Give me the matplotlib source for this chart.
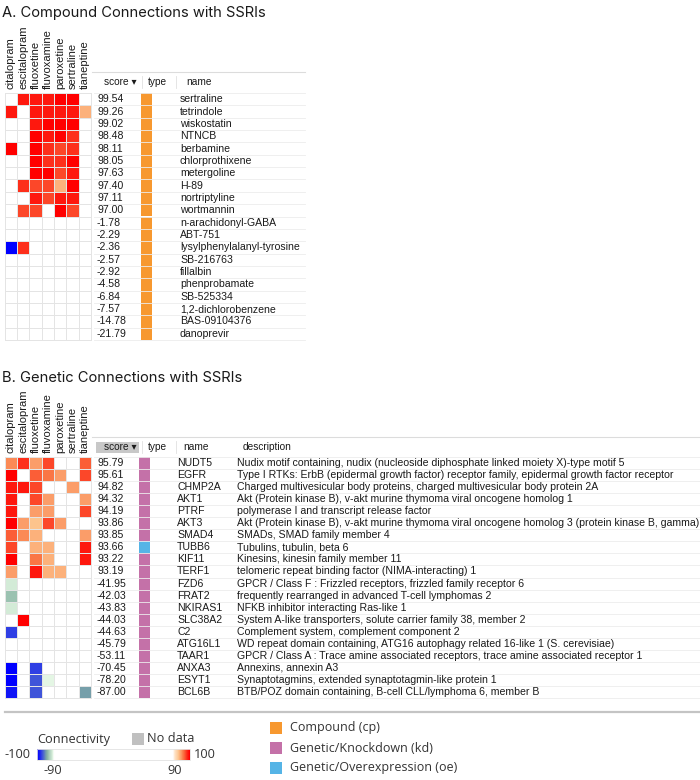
import numpy as np
import matplotlib
matplotlib.use("Agg")
import matplotlib.pyplot as plt
from matplotlib.colors import LinearSegmentedColormap, Normalize

# ---- data ----
drugs = ["citalopram", "escitalopram", "fluoxetine", "fluvoxamine",
         "paroxetine", "sertraline", "tianeptine"]

compounds = ["sertraline", "tetrindole", "wiskostatin", "NTNCB", "berbamine",
             "chlorprothixene", "metergoline", "H-89", "nortriptyline",
             "wortmannin", "n-arachidonyl-GABA", "ABT-751",
             "lysylphenylalanyl-tyrosine", "SB-216763", "fillalbin",
             "phenprobamate", "SB-525334", "1,2-dichlorobenzene",
             "BAS-09104376", "danoprevir"]
compound_scores = [99.54, 99.26, 99.02, 98.48, 98.11, 98.05, 97.63, 97.40,
                   97.11, 97.00, -1.78, -2.29, -2.36, -2.57, -2.92, -4.58,
                   -6.84, -7.57, -14.78, -21.79]
compound_conn = [
    [0, 99, 99, 98.5, 99.5, 99.5, 0],
    [99.2, 0, 99, 99, 99, 98.5, 93],
    [0, 0, 98.5, 99.5, 99.5, 99.7, 0],
    [0, 0, 99.5, 99, 99.7, 98, 0],
    [99.5, 0, 99.5, 98, 97.5, 98, 0],
    [0, 0, 99.5, 98, 98, 99.5, 0],
    [0, 0, 99.5, 99.5, 97.5, 98.5, 0],
    [0, 98, 97, 97.5, 93, 99.5, 0],
    [0, 0, 98.5, 97.5, 99, 98.5, 0],
    [0, 97.5, 97, 0, 99.7, 97, 0],
    [0, 0, 0, 0, 0, 0, 0],
    [0, 0, 0, 0, 0, 0, 0],
    [-99.5, 98, 0, 0, 0, 0, 0],
    [0, 0, 0, 0, 0, 0, 0],
    [0, 0, 0, 0, 0, 0, 0],
    [0, 0, 0, 0, 0, 0, 0],
    [0, 0, 0, 0, 0, 0, 0],
    [0, 0, 0, 0, 0, 0, 0],
    [0, 0, 0, 0, 0, 0, 0],
    [0, 0, 0, 0, 0, 0, 0],
]

genes = ["NUDT5", "EGFR", "CHMP2A", "AKT1", "PTRF", "AKT3", "SMAD4", "TUBB6",
         "KIF11", "TERF1", "FZD6", "FRAT2", "NKIRAS1", "SLC38A2", "C2",
         "ATG16L1", "TAAR1", "ANXA3", "ESYT1", "BCL6B"]
gene_scores = [95.79, 95.61, 94.82, 94.32, 94.19, 93.86, 93.85, 93.66, 93.22,
               93.19, -41.95, -42.03, -43.83, -44.03, -44.63, -45.79, -53.11,
               -70.45, -78.20, -87.00]
gene_types = ["kd"] * 7 + ["oe"] + ["kd"] * 12
gene_desc = [
    "Nudix motif containing, nudix (nucleoside diphosphate linked moiety X)-type motif 5",
    "Type I RTKs: ErbB (epidermal growth factor) receptor family, epidermal growth factor receptor",
    "Charged multivesicular body proteins, charged multivesicular body protein 2A",
    "Akt (Protein kinase B), v-akt murine thymoma viral oncogene homolog 1",
    "polymerase I and transcript release factor",
    "Akt (Protein kinase B), v-akt murine thymoma viral oncogene homolog 3 (protein kinase B, gamma)",
    "SMADs, SMAD family member 4",
    "Tubulins, tubulin, beta 6",
    "Kinesins, kinesin family member 11",
    "telomeric repeat binding factor (NIMA-interacting) 1",
    "GPCR / Class F : Frizzled receptors, frizzled family receptor 6",
    "frequently rearranged in advanced T-cell lymphomas 2",
    "NFKB inhibitor interacting Ras-like 1",
    "System A-like transporters, solute carrier family 38, member 2",
    "Complement system, complement component 2",
    "WD repeat domain containing, ATG16 autophagy related 16-like 1 (S. cerevisiae)",
    "GPCR / Class A : Trace amine associated receptors, trace amine associated receptor 1",
    "Annexins, annexin A3",
    "Synaptotagmins, extended synaptotagmin-like protein 1",
    "BTB/POZ domain containing, B-cell CLL/lymphoma 6, member B",
]
gene_conn = [
    [95, 98, 94, 97.5, 0, 0, 96.5],
    [99.5, 0, 96.5, 95.5, 94, 0, 97],
    [99, 99, 97.5, 0, 0, 94.5, 0],
    [99, 0, 97.5, 94, 0, 0, 94.5],
    [99, 0, 94, 94, 0, 0, 97.5],
    [99.7, 94, 92.5, 97.5, 94, 0, 0],
    [96.5, 95, 93.5, 0, 0, 0, 94],
    [97.5, 0, 93.5, 93.5, 0, 0, 98.5],
    [99.7, 0, 95.5, 93, 0, 0, 99],
    [94, 0, 98.5, 93.5, 93, 0, 0],
    [-90.6, 0, 0, 0, 0, 0, 0],
    [-92.5, 0, 0, 0, 0, 0, 0],
    [-90.6, 0, 0, 0, 0, 0, 0],
    [0, 99.5, 0, 0, 0, 0, 0],
    [-97.3, 0, 0, 0, 0, 0, 0],
    [0, 0, 0, 0, 0, 0, 0],
    [0, 0, 0, 0, 0, 0, 0],
    [-99.7, 0, -97.3, 0, 0, 0, 0],
    [-99.5, 0, -96.6, -89.6, 0, 0, 0],
    [-99.0, 0, -96.6, 0, 0, 0, -94],
]

type_colors = {"cp": "#f7982f", "kd": "#c471a8", "oe": "#55b4e6"}
type_labels = [("cp", "Compound (cp)"), ("kd", "Genetic/Knockdown (kd)"),
               ("oe", "Genetic/Overexpression (oe)")]

# connectivity colour scale: blue -100, green -90, white, orange 90, red 100
stops = [(-100, "#0000ff"), (-97, "#3c50dc"), (-94, "#82afa0"),
         (-90, "#e1f5e1"), (-88, "#ffffff"), (88, "#ffffff"),
         (90, "#ffebd7"), (93, "#fdc38c"), (96, "#fa7846"), (100, "#ff0000")]
cmap = LinearSegmentedColormap.from_list(
    "conn", [((v + 100) / 200, c) for v, c in stops])
norm = Normalize(-100, 100)

TXT = "#1a1a1a"
GRID = "#e4e4e4"
TFONT = ["Liberation Sans", "DejaVu Sans"]
LFONT = ["Open Sans", "DejaVu Sans"]
LCOL = "#333333"

fig = plt.figure(figsize=(7, 7.8), dpi=100)
ax = fig.add_axes([0, 0, 1, 1])
ax.set_xlim(0, 700)
ax.set_ylim(780, 0)
ax.axis("off")

HX0, CW = 4.5, 12.35


def panel(title, ty, y_lab, y0, rh, conn, scores, names, types, desc,
          line_x1, head_y, sorted_box):
    ax.text(2, ty, title, fontsize=10.6, family=["Inter", "DejaVu Sans"],
            va="center", ha="left", color=TXT)
    n = len(names)
    xe = HX0 + np.arange(len(drugs) + 1) * CW
    ye = y0 + np.arange(n + 1) * rh
    ax.pcolormesh(xe, ye, np.array(conn), cmap=cmap, norm=norm,
                  edgecolors=GRID, linewidth=0.6)
    for i, d in enumerate(drugs):
        ax.text(xe[i] + CW / 2, y_lab, d, rotation=90, ha="center",
                va="bottom", fontsize=8, family=TFONT, color=TXT)
    # table rows
    for k in range(n + 1):
        ax.plot([94, line_x1], [ye[k], ye[k]], color="#ececec", lw=0.6)
    ax.plot([92, line_x1], [head_y - 10, head_y - 10], color="#dcdcdc", lw=0.8)
    if sorted_box:
        ax.add_patch(plt.Rectangle((96, head_y - 5.5), 43, 11,
                                   color="#c8c8c8", lw=0))
    for xs in (141.5, 175.5):
        ax.plot([xs, xs], [head_y - 6, head_y + 6], color="#e0e0e0", lw=0.6)
    ax.text(104, head_y, "score \u25be", fontsize=7.3, family=TFONT,
            va="center", color=TXT)
    ax.text(148, head_y, "type", fontsize=7.3, family=TFONT, va="center",
            color=TXT)
    ax.text(183 if desc is not None else 186, head_y, "name", fontsize=7.3,
            family=TFONT, va="center", color=TXT)
    if desc is not None:
        ax.text(243, head_y, "description", fontsize=7.3, family=TFONT,
                va="center", color=TXT)
    name_x = 177 if desc is not None else 180
    bx = 139 if desc is not None else 141
    for k in range(n):
        yc = (ye[k] + ye[k + 1]) / 2
        ax.add_patch(plt.Rectangle((bx, ye[k]), 10.5, rh,
                                   color=type_colors[types[k]], lw=0))
        ax.text(97, yc, "%.2f" % scores[k], fontsize=7.6, family=TFONT,
                va="center", color=TXT)
        ax.text(name_x, yc, names[k], fontsize=7.6, family=TFONT,
                va="center", color=TXT)
        if desc is not None:
            ax.text(237, yc, desc[k], fontsize=7.55, family=TFONT,
                    va="center", color=TXT)


panel("A. Compound Connections with SSRIs", 13, 89, 93, 12.35,
      compound_conn, compound_scores, compounds, ["cp"] * len(compounds),
      None, 305, 82, False)
panel("B. Genetic Connections with SSRIs", 378, 453, 457, 12.05,
      gene_conn, gene_scores, genes, gene_types, gene_desc, 700, 447, True)

# ---- legend ----
ax.plot([5, 700], [712, 712], color="#c4c4c4", lw=1.6)
ax.text(37, 739, "Connectivity", fontsize=9.2, family=LFONT, va="center",
        color=LCOL)
ax.add_patch(plt.Rectangle((132, 733), 12, 12, color="#c0c0c0", lw=0))
ax.text(147, 739, "No data", fontsize=9.2, family=LFONT, va="center",
        color=LCOL)
# legend bar stretches the -100..-90 and 90..100 ends
CB_X0, CB_W = 37, 153
cb_pos = np.linspace(0, 1, 600)
cb_vals = np.interp(cb_pos, [0, 0.1, 0.9, 1], [-100, -90, 90, 100])
ax.imshow(cb_vals[None, :], cmap=cmap, norm=norm,
          extent=[CB_X0, CB_X0 + CB_W, 760, 749],
          aspect="auto", interpolation="bilinear")
ax.add_patch(plt.Rectangle((CB_X0, 749), CB_W, 11, fill=False, ec="#e2e2e2",
                           lw=0.6))
ax.text(30, 755, "-100", fontsize=9.2, family=LFONT, va="center", ha="right",
        color=LCOL)
ax.text(194, 755, "100", fontsize=9.2, family=LFONT, va="center",
        color=LCOL)
for v in (-90, 90):
    ax.text(CB_X0 + np.interp(v, [-100, -90, 90, 100], [0, 0.1, 0.9, 1]) * CB_W,
            770, str(v), fontsize=9.2, family=LFONT, va="center",
            ha="center", color=LCOL)
for k, (t, lab) in enumerate(type_labels):
    yy = 722 + k * 20
    ax.add_patch(plt.Rectangle((270, yy), 12, 12, color=type_colors[t], lw=0))
    ax.text(290, yy + 6, lab, fontsize=9, family=LFONT, va="center",
            color=LCOL)

fig.savefig("out.png", dpi=100)
